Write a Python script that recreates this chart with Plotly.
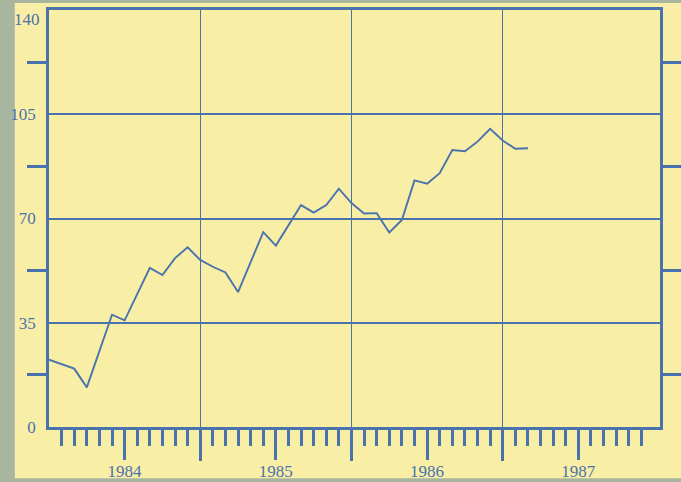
import plotly.graph_objects as go

# ---- data ----
start_year = 1984
month_index = [0, 2, 3, 5, 6, 8, 9, 10, 11,
               12, 13, 14, 15, 17, 18, 20, 21, 22, 23,
               24, 25, 26, 27, 28, 29, 30, 31, 32, 33, 34, 35,
               36, 37, 38]
values = [22.6, 19.6, 13.3, 37.7, 35.8, 53.4, 51.0, 56.7, 60.3,
          56.1, 53.8, 51.9, 45.3, 65.4, 60.9, 74.5, 72.0, 74.5, 80.0,
          75.2, 71.7, 71.8, 65.3, 69.5, 82.8, 81.7, 85.2, 93.0, 92.6, 95.8, 100.1,
          96.2, 93.4, 93.6]
years = [1984, 1985, 1986, 1987]
year_labels = ["1984", "1985", "1986", "1987"]
y_ticks = [0, 35, 70, 105, 140]
y_tick_labels = ["0", "35", "70", "105", "140"]
y_half_ticks = [17.5, 52.5, 87.5, 122.5]

# ---- styling ----
BLUE = "#4a72ad"
YELLOW = "#f9eea6"
FRAME = "#a8b6a0"
FONT = "Liberation Serif"

x = [start_year + m / 12 for m in month_index]

# quarter ticks (major) with year labels at mid-year, monthly minor ticks
quarter_vals, quarter_text = [], []
for y, lab in zip(years, year_labels):
    for q in range(4):
        v = y + q * 0.25
        if v == years[0]:
            continue
        quarter_vals.append(v)
        quarter_text.append(lab if q == 2 else "")
month_vals = [start_year + k / 12 for k in range(1, 12 * len(years))]

# the top label (140) sits a little below its line in the reference
y_axis_text = y_tick_labels[:-1] + [""]

fig = go.Figure()
fig.add_trace(go.Scatter(x=x, y=values, mode="lines",
                         line=dict(color=BLUE, width=1.9),
                         hoverinfo="skip", showlegend=False))
# invisible companion trace so the overlay axes are drawn
fig.add_trace(go.Scatter(x=x, y=values, mode="lines", xaxis="x2", yaxis="y2",
                         line=dict(color="rgba(0,0,0,0)", width=0),
                         hoverinfo="skip", showlegend=False))

x_range = [start_year, start_year + 4.04]
y_range = [0, 140]

fig.update_layout(
    width=681, height=482,
    margin=dict(l=49, r=21, t=10, b=55, autoexpand=False),
    paper_bgcolor=FRAME,
    plot_bgcolor=YELLOW,
    font=dict(family=FONT, color=BLUE, size=17),
    showlegend=False,
    shapes=[dict(type="rect", xref="paper", yref="paper",
                 x0=-0.056, x1=1.05, y0=-0.123, y1=1.017,
                 fillcolor=YELLOW, line=dict(width=0), layer="below")],
    annotations=[dict(x=0, xref="paper", y=y_ticks[-1], yref="y",
                      text=y_tick_labels[-1], showarrow=False,
                      xanchor="right", yanchor="middle", xshift=-7, yshift=-9,
                      font=dict(family=FONT, size=17, color=BLUE))],
    xaxis=dict(range=x_range, showgrid=False, zeroline=False, automargin=False,
               showline=True, linecolor=BLUE, linewidth=2.5, mirror=True,
               tickmode="array", tickvals=quarter_vals, ticktext=quarter_text,
               ticks="outside", ticklen=30, tickwidth=2.5, tickcolor=BLUE,
               ticklabelstandoff=-3,
               tickfont=dict(family=FONT, size=17, color=BLUE),
               minor=dict(tickmode="array", tickvals=month_vals,
                          ticks="outside", ticklen=16, tickwidth=2.5,
                          tickcolor=BLUE, showgrid=False)),
    xaxis2=dict(range=x_range, overlaying="x", side="bottom", anchor="y",
                showline=False, zeroline=False, automargin=False,
                showgrid=True, gridcolor=BLUE, gridwidth=1.4,
                tickmode="array", tickvals=years[1:], showticklabels=False,
                ticks="outside", ticklen=33, tickwidth=2.5, tickcolor=BLUE),
    yaxis=dict(range=y_range, zeroline=False, automargin=False,
               showline=True, linecolor=BLUE, linewidth=2.5, mirror=True,
               showgrid=True, gridcolor=BLUE, gridwidth=1.6,
               tickmode="array", tickvals=y_ticks, ticktext=y_axis_text,
               ticks="", ticklabelstandoff=7,
               tickfont=dict(family=FONT, size=17, color=BLUE),
               minor=dict(tickmode="array", tickvals=y_half_ticks,
                          ticks="outside", ticklen=19, tickwidth=2.5,
                          tickcolor=BLUE, showgrid=False)),
    yaxis2=dict(range=y_range, overlaying="y", side="right", anchor="x",
                showline=False, zeroline=False, showgrid=False, automargin=False,
                tickmode="array", tickvals=y_half_ticks, showticklabels=False,
                ticks="outside", ticklen=20, tickwidth=2.5, tickcolor=BLUE),
)

fig.write_html(
    "out.html",
    config={"displayModeBar": False},
    post_script="document.body.style.margin='0';document.body.style.background='" + FRAME + "';",
)
